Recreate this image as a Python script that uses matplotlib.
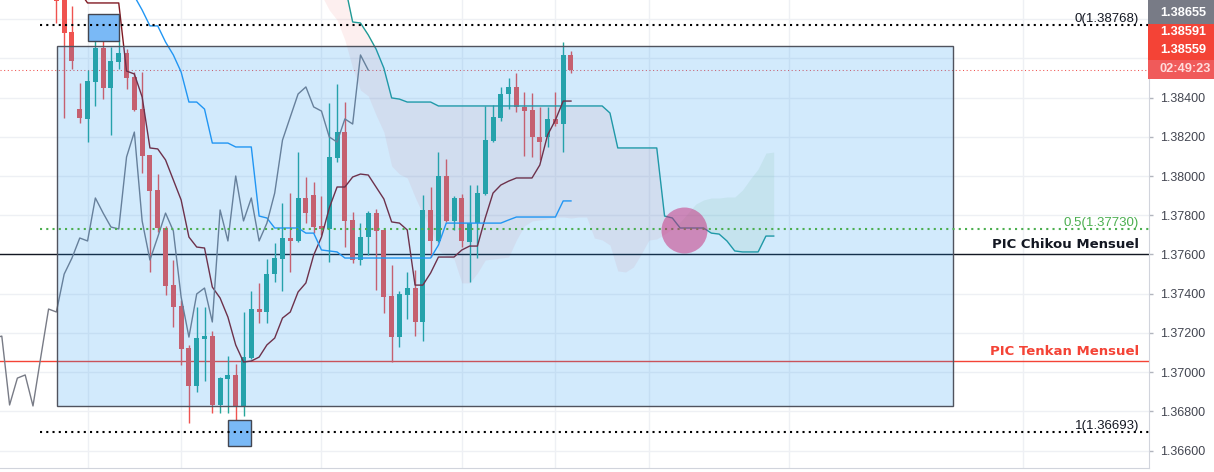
import numpy as np
import matplotlib.pyplot as plt
from matplotlib.patches import Rectangle

# candles (price)
opens = [1.38922, 1.38948, 1.38734, 1.38341, 1.38291, 1.38479, 1.38652, 1.38449, 1.38581, 1.38627,
         1.38505, 1.38341, 1.38107, 1.37929, 1.37735, 1.37444, 1.37337, 1.37123, 1.36930, 1.37169,
         1.37184, 1.36833, 1.36965, 1.36986, 1.36828, 1.37072, 1.37322, 1.37307, 1.37500, 1.37577,
         1.37684, 1.37669, 1.37888, 1.37903, 1.37745, 1.37730, 1.38092, 1.38224, 1.37776, 1.37572,
         1.37689, 1.37811, 1.37725, 1.37388, 1.37179, 1.37393, 1.37429, 1.37256, 1.37827, 1.37669,
         1.38000, 1.37771, 1.37888, 1.37664, 1.37760, 1.37908, 1.38178, 1.38296, 1.38418, 1.38454,
         1.38352, 1.38336, 1.38199, 1.38199, 1.38291, 1.38265, 1.38617]
highs = [1.38948, 1.38973, 1.38866, 1.38474, 1.38540, 1.38719, 1.38770, 1.38657, 1.38693, 1.38647,
         1.38530, 1.38530, 1.38107, 1.38010, 1.37745, 1.37572, 1.37368, 1.37139, 1.37332, 1.37332,
         1.37210, 1.36975, 1.37083, 1.37042, 1.37307, 1.37414, 1.37455, 1.37577, 1.37658, 1.37862,
         1.37913, 1.38122, 1.37995, 1.37969, 1.37898, 1.38372, 1.38469, 1.38377, 1.37816, 1.37760,
         1.37822, 1.37832, 1.37725, 1.37546, 1.37414, 1.37511, 1.37521, 1.37903, 1.37944, 1.38122,
         1.38087, 1.37898, 1.37908, 1.37954, 1.37954, 1.38357, 1.38362, 1.38454, 1.38499, 1.38525,
         1.38428, 1.38423, 1.38352, 1.38352, 1.38428, 1.38683, 1.38637]
lows = [1.38780, 1.38296, 1.38545, 1.38270, 1.38173, 1.38357, 1.38392, 1.38209, 1.38545, 1.38443,
        1.38331, 1.38015, 1.37511, 1.37715, 1.37393, 1.37230, 1.37037, 1.36741, 1.36899, 1.36955,
        1.36792, 1.36792, 1.36792, 1.36695, 1.36777, 1.37067, 1.37251, 1.37251, 1.37460, 1.37414,
        1.37511, 1.37664, 1.37760, 1.37709, 1.37699, 1.37562, 1.38071, 1.37638, 1.37557, 1.37546,
        1.37597, 1.37419, 1.37302, 1.37052, 1.37128, 1.37271, 1.37184, 1.37159, 1.37587, 1.37664,
        1.37766, 1.37725, 1.37638, 1.37460, 1.37582, 1.37903, 1.38173, 1.38280, 1.38341, 1.38326,
        1.38102, 1.38097, 1.38082, 1.38148, 1.38255, 1.38122, 1.38525]
closes = [1.38892, 1.38729, 1.38586, 1.38296, 1.38484, 1.38652, 1.38449, 1.38586, 1.38627, 1.38499,
          1.38336, 1.38102, 1.37924, 1.37735, 1.37439, 1.37332, 1.37118, 1.36930, 1.37174, 1.37184,
          1.36833, 1.36970, 1.36986, 1.36828, 1.37077, 1.37322, 1.37307, 1.37500, 1.37582, 1.37684,
          1.37669, 1.37888, 1.37811, 1.37740, 1.37730, 1.38097, 1.38224, 1.37771, 1.37572, 1.37689,
          1.37811, 1.37720, 1.37383, 1.37179, 1.37399, 1.37429, 1.37256, 1.37827, 1.37669, 1.38000,
          1.37771, 1.37888, 1.37669, 1.37760, 1.37913, 1.38183, 1.38301, 1.38418, 1.38454, 1.38352,
          1.38331, 1.38199, 1.38173, 1.38291, 1.38265, 1.38617, 1.38540]

# ichimoku lines
tenkan = [1.38938, 1.38938, 1.38938, 1.38938, 1.38882, 1.38882, 1.38882, 1.38882, 1.38882, 1.38535,
          1.38520, 1.38403, 1.38143, 1.38138, 1.38082, 1.37980, 1.37878, 1.37689, 1.37638, 1.37633,
          1.37434, 1.37378, 1.37281, 1.37139, 1.37052, 1.37057, 1.37077, 1.37139, 1.37174, 1.37276,
          1.37307, 1.37409, 1.37455, 1.37597, 1.37689, 1.37837, 1.37944, 1.37944, 1.37995, 1.38010,
          1.38005, 1.37944, 1.37883, 1.37766, 1.37760, 1.37725, 1.37444, 1.37444, 1.37506, 1.37587,
          1.37587, 1.37587, 1.37623, 1.37643, 1.37643, 1.37786, 1.37913, 1.37954, 1.37974, 1.37990,
          1.37990, 1.37990, 1.38056, 1.38209, 1.38285, 1.38382, 1.38382]
kijun = [1.38999] * 10 + [
    1.38917, 1.38846, 1.38765, 1.38765, 1.38683, 1.38617, 1.38530, 1.38377, 1.38377, 1.38341,
    1.38168, 1.38168, 1.38168, 1.38148, 1.38148, 1.38148, 1.37796, 1.37786, 1.37735, 1.37735,
    1.37735, 1.37735, 1.37709, 1.37709, 1.37623, 1.37618, 1.37613] + [1.37582] * 12 + [
    1.37648] + [1.37760] * 8 + [1.37776] + [1.37791] * 6 + [1.37873, 1.37873]

span_start = 34  # first index of the leading spans
senkou_a = [1.38922, 1.38846, 1.38795, 1.38693, 1.38550, 1.38438, 1.38408, 1.38311, 1.38224, 1.38051,
            1.38010, 1.37990, 1.37893, 1.37806, 1.37735, 1.37623, 1.37592, 1.37577, 1.37455, 1.37455,
            1.37506, 1.37572, 1.37577, 1.37582, 1.37587, 1.37674, 1.37745, 1.37771, 1.37776, 1.37781,
            1.37791, 1.37791, 1.37786, 1.37791, 1.37791, 1.37684, 1.37674, 1.37648, 1.37516, 1.37511,
            1.37536, 1.37602, 1.37674, 1.37679, 1.37704, 1.37730, 1.37766, 1.37811, 1.37857, 1.37878,
            1.37888, 1.37888, 1.37893, 1.37893, 1.37929, 1.37985, 1.38036, 1.38117, 1.38122]
senkou_b = [1.39152, 1.39101, 1.39050, 1.38973, 1.38785, 1.38780, 1.38719, 1.38647, 1.38550, 1.38398,
            1.38392] + [1.38377] * 4 + [1.38357] * 22 + [1.38321] + [1.38143] * 6 + [
            1.37796, 1.37786] + [1.37735] * 4 + [1.37709, 1.37704, 1.37669, 1.37618] + [
            1.37613] * 3 + [1.37694, 1.37694]
chikou_shift = 26

# drawings
zone = (0.05, 115.0, 1.36828, 1.38663)          # x0, x1, low, high
swing_high = (4.05, 8.03, 1.38688, 1.38826)
swing_low = (22.0, 24.96, 1.36624, 1.36756)
fib_start = -2.1
fib_levels = [("0", 1.38768, "black"), ("0.5", 1.37730, "#4caf50"), ("1", 1.36693, "black")]
pic_lines = [("PIC Chikou Mensuel", 1.37600, "#131722"), ("PIC Tenkan Mensuel", 1.37057, "#f44336")]
circle_pos = (80.5, 1.37725)
price_ticks = np.round(np.arange(1.366, 1.3881, 0.002), 3)
hidden_ticks = [1.386, 1.388]   # covered by the price labels
grid_x = [4, 16, 34, 52, 64, 76, 94, 124]
scale_boxes = [("1.38655", 0, 24, 13, "#787b86", "white"),
               ("1.38591", 24, 42, 32, "#f44336", "white"),
               ("1.38559", 42, 60, 50, "#f44336", "white"),
               ("02:49:23", 60, 79, 69, "#f05a5a", "#ffdcdc")]

W, H = 1214, 472
xmin, xmax = -7.23, 140.13
ymin, ymax = 1.365118, 1.388971

plt.rcParams['font.family'] = ['Liberation Sans', 'DejaVu Sans']
fig = plt.figure(figsize=(W / 100, H / 100), dpi=100)
ax = fig.add_axes([0, 4 / H, 1149 / W, 468 / H])

# grid
for gx in grid_x:
    ax.axvline(gx, color="#eef0f4", lw=1, zorder=0)
for t in price_ticks:
    ax.axhline(t, color="#eef0f4", lw=1, zorder=0)

o = np.array(opens); h = np.array(highs); l = np.array(lows); c = np.array(closes)
x = np.arange(len(c))
up = c >= o
col = np.where(up, "#26a69a", "#ef5350")

# cloud
sx = np.arange(span_start, span_start + len(senkou_a))
sa = np.array(senkou_a); sb = np.array(senkou_b)
ax.fill_between(sx, sa, sb, where=sa >= sb, interpolate=True, color="#66bb6a", alpha=0.11, lw=0, zorder=1)
ax.fill_between(sx, sa, sb, where=sa < sb, interpolate=True, color="#ef5350", alpha=0.09, lw=0, zorder=1)
ax.plot(sx, sb, color="#1f9a96", lw=1, zorder=4)

# horizontal lines
for name, lvl, clr in pic_lines:
    ax.axhline(lvl, color=clr, lw=1, zorder=2)
    ax.annotate(name, xy=(1, lvl), xycoords=("axes fraction", "data"), xytext=(-10, 6),
                textcoords="offset pixels", ha="right", va="baseline", color=clr,
                fontsize=9.5, fontweight="bold", family="DejaVu Sans", zorder=8)
ax.axhline(c[-1], color="#ef5350", lw=0.75, ls=(0, (1, 2.5)), zorder=2)

# candles
ax.vlines(x, l, h, color=col, lw=1, zorder=3)
ax.bar(x, np.maximum(np.abs(c - o), 0.00003), bottom=np.minimum(o, c), width=0.64,
       color=col, lw=0, zorder=3)

ax.plot(x, tenkan, color="#801922", lw=1, zorder=4)
ax.plot(x, kijun, color="#2196f3", lw=1, zorder=4)
ax.plot(x - chikou_shift, c, color="#787b86", lw=1, zorder=4)

# zone rectangle
ax.add_patch(Rectangle((zone[0], zone[2]), zone[1] - zone[0], zone[3] - zone[2],
                       facecolor="#2196f3", alpha=0.2, lw=0, zorder=5))
ax.add_patch(Rectangle((zone[0], zone[2]), zone[1] - zone[0], zone[3] - zone[2],
                       fill=False, edgecolor="#50535e", lw=1, zorder=5))
for bx in (swing_high, swing_low):
    ax.add_patch(Rectangle((bx[0], bx[2]), bx[1] - bx[0], bx[3] - bx[2],
                           facecolor="#7ab9f6", edgecolor="#434651", lw=1, zorder=6))

# fibonacci
for lab, lvl, clr in fib_levels:
    ax.hlines(lvl, fib_start, xmax, colors=clr, lw=1.5, linestyles=(0, (1, 2)), zorder=6)
    ax.annotate(f"{lab}({lvl:.5f})", xy=(1, lvl), xycoords=("axes fraction", "data"),
                xytext=(-10, 3), textcoords="offset pixels", ha="right", va="baseline",
                color="#131722" if clr == "black" else clr, fontsize=9.5, zorder=8)

ax.scatter([circle_pos[0]], [circle_pos[1]], s=1097, color="#c82878", alpha=0.5, lw=0, zorder=6)

# axes styling
ax.set_xlim(xmin, xmax)
ax.set_ylim(ymin, ymax)
ax.yaxis.tick_right()
ax.set_yticks(price_ticks)
ax.set_yticklabels(["" if t in hidden_ticks else f"{t:.5f}" for t in price_ticks])
ax.tick_params(axis="y", length=2.9, width=1, color="#b2b5be", pad=5, labelsize=9,
               labelcolor="#434651")
ax.set_xticks([])
for s in ("left", "top"):
    ax.spines[s].set_visible(False)
for s in ("right", "bottom"):
    ax.spines[s].set_color("#d1d4dc")

# price scale labels
for txt, y0, y1, yc, bg, fg in scale_boxes:
    fig.add_artist(Rectangle((1148 / W, 1 - y1 / H), 66 / W, (y1 - y0) / H,
                             transform=fig.transFigure, facecolor=bg, lw=0, zorder=10))
    fig.text(1160 / W, 1 - yc / H, txt, ha="left", va="center", color=fg, fontsize=9.2,
             fontweight="bold", zorder=11)

fig.savefig("out.png", dpi=100)
